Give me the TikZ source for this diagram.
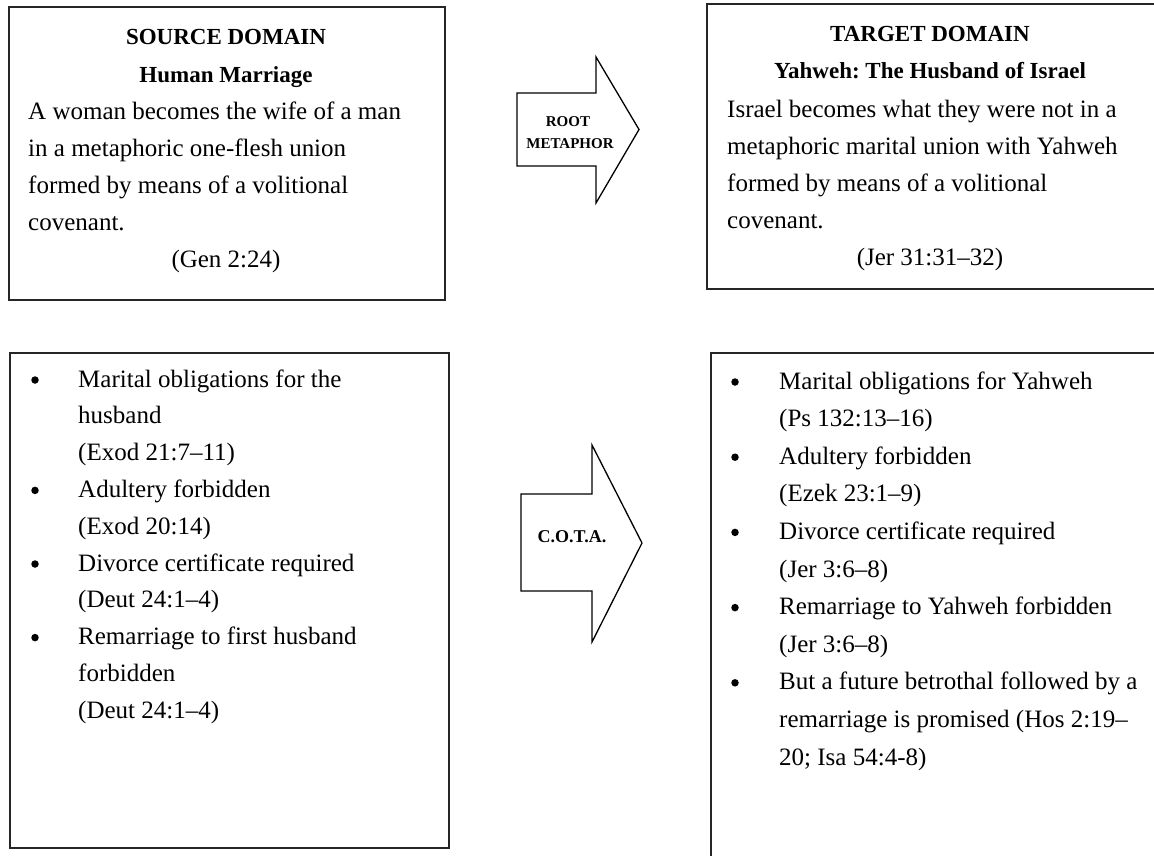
\documentclass[tikz,border=0pt]{standalone}
\usepackage{fontspec}
\setmainfont{Liberation Serif}
\begin{document}
\frenchspacing
\begin{tikzpicture}[x=1pt,y=-1pt,
  box/.style={draw=black!85,line width=1.5pt,anchor=north west,inner sep=0pt},
  body/.style={font=\fontsize{25}{30}\selectfont,inner sep=0pt,anchor=base west},
  cbody/.style={font=\fontsize{25}{30}\selectfont,inner sep=0pt,anchor=base},
  head/.style={font=\fontsize{23}{28}\selectfont\bfseries,inner sep=0pt,anchor=base},
  arrlabel/.style={font=\fontsize{15}{18}\selectfont\bfseries,inner sep=0pt,anchor=base},
  blockarrow/.style={draw=black,line width=1.3pt,fill=white,line join=miter},
  dot/.style={circle,fill=black,inner sep=0pt,minimum size=7.5pt},
]
\useasboundingbox (0,0) rectangle (1154,855);
\clip (0,0) rectangle (1154,855);
\fill[white] (0,0) rectangle (1154,855);

% boxes
\node[box,minimum width=436pt,minimum height=293pt] (src) at (8,6) {};
\node[box,minimum width=470pt,minimum height=285pt] (tgt) at (706,3) {};
\node[box,minimum width=439pt,minimum height=495pt] (srclist) at (9,352) {};
\node[box,minimum width=470pt,minimum height=530pt] (tgtlist) at (710,352) {};

% block arrows
\draw[blockarrow] (517,93) -- (596,93) -- (596,57) -- (639,129.5) -- (596,203) -- (596,166) -- (517,166) -- cycle;
\node[arrlabel] (root1) at (568,126) {ROOT};
\node[arrlabel] (root2) at (570,148) {METAPHOR};

\draw[blockarrow] (521,494) -- (592,494) -- (592,445) -- (642,543) -- (592,642) -- (592,591) -- (521,591) -- cycle;
\node[font=\fontsize{18}{20}\selectfont\bfseries,inner sep=0pt,anchor=base] (cota) at (572,542) {C.O.T.A.};

% source domain
\node[head] (srch1) at (226,44) {SOURCE DOMAIN};
\node[head] (srch2) at (226,82) {Human Marriage};
\foreach \t [count=\i from 0] in {{A woman becomes the wife of a man},{in a metaphoric one-flesh union},{formed by means of a volitional},{covenant.}}
  \node[body] (srcb\i) at (28,{119+37*\i}) {\t};
\node[cbody] (srcref) at (226,267) {(Gen 2:24)};

% target domain
\node[head] (tgth1) at (930,41) {TARGET DOMAIN};
\node[head] (tgth2) at (930,78) {Yahweh: The Husband of Israel};
\foreach \t [count=\i from 0] in {{Israel becomes what they were not in a},{metaphoric marital union with Yahweh},{formed by means of a volitional},{covenant.}}
  \node[body] (tgtb\i) at (727,{117+37*\i}) {\t};
\node[cbody] (tgtref) at (930,265) {(Jer 31:31–32)};

% source list
\foreach \t [count=\i from 0] in {{Marital obligations for the},{husband},{(Exod 21:7–11)},{Adultery forbidden},{(Exod 20:14)},{Divorce certificate required},{(Deut 24:1–4)},{Remarriage to first husband},{forbidden},{(Deut 24:1–4)}}
  \node[body] (sl\i) at (78,{387+36.8*\i}) {\t};
\foreach \i in {0,3,5,7}
  \node[dot] (sd\i) at (35,{387+36.8*\i-7}) {};

% target list
\foreach \t [count=\i from 0] in {{Marital obligations for Yahweh},{(Ps 132:13–16)},{Adultery forbidden},{(Ezek 23:1–9)},{Divorce certificate required},{(Jer 3:6–8)},{Remarriage to Yahweh forbidden},{(Jer 3:6–8)},{But a future betrothal followed by a},{remarriage is promised (Hos 2:19–},{20; Isa 54:4-8)}}
  \node[body] (tl\i) at (779,{389+37.6*\i}) {\t};
\foreach \i in {0,2,4,6,8}
  \node[dot] (td\i) at (735,{389+37.6*\i-7}) {};
\end{tikzpicture}
\end{document}
